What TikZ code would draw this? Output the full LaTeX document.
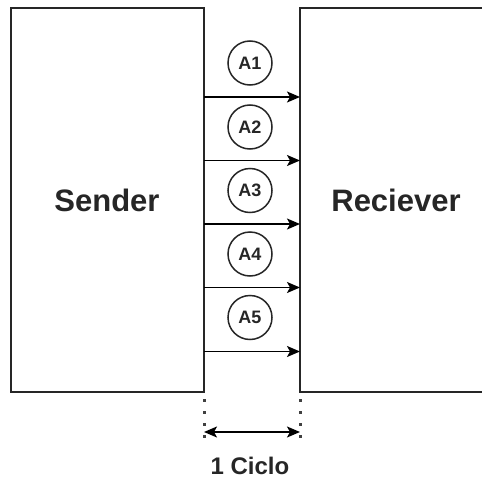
\documentclass[tikz,border=0pt]{standalone}
\usepackage{fontspec}
\setmainfont{Liberation Sans}
\usetikzlibrary{arrows.meta}
\begin{document}
\begin{tikzpicture}[x=1pt,y=-1pt,
  box/.style={draw=black!85, line width=1.6pt, fill=white},
  lbl/.style={font=\fontsize{31}{33}\selectfont\bfseries, text=black!85},
  msg/.style={circle, draw=black!85, line width=1.5pt, minimum size=44pt, inner sep=0pt, font=\fontsize{18}{20}\selectfont\bfseries, text=black!85},
  tip/.style={Stealth[length=13pt,width=11pt,inset=3pt]},
  flow/.style={draw=black, line width=1.6pt, -{Stealth[length=13pt,width=11pt,inset=3pt]}},
  guide/.style={draw=black!75, line width=3pt, dash pattern=on 3pt off 9pt},
  span/.style={draw=black, line width=1.6pt, {Stealth[length=13pt,width=11pt,inset=3pt]}-{Stealth[length=13pt,width=11pt,inset=3pt]}}
]
\useasboundingbox (0,0) rectangle (482,479);
\clip (0,0) rectangle (482,479);
% boxes
\draw[box] (11,8) rectangle (204,392);
\draw[box] (300,8) rectangle (495,392);
\node[lbl] (sender) at (107,200) {Sender};
\node[lbl] (recv) at (396,200) {Reciever};
% messages
\foreach \i/\cy/\ay in {1/63/97, 2/127/160.5, 3/190.5/224, 4/254/287.5, 5/317.5/351.5} {
  \node[msg] (a\i) at (250,\cy) {A\i};
  \coordinate (s\i) at (204,\ay);
  \coordinate (r\i) at (300,\ay);
  \draw[flow] (s\i) -- (r\i);
}
% cycle marker
\coordinate (dl0) at (204,399);
\coordinate (dl1) at (204,444);
\coordinate (dr0) at (300,399);
\coordinate (dr1) at (300,444);
\draw[guide] (dl0) -- (dl1);
\draw[guide] (dr0) -- (dr1);
\coordinate (cl) at (204,432);
\coordinate (cr) at (300,432);
\draw[span] (cl) -- (cr);
\node[font=\fontsize{24}{26}\selectfont\bfseries, text=black!85] (cyc) at (250,466) {1 Ciclo};
\end{tikzpicture}
\end{document}
